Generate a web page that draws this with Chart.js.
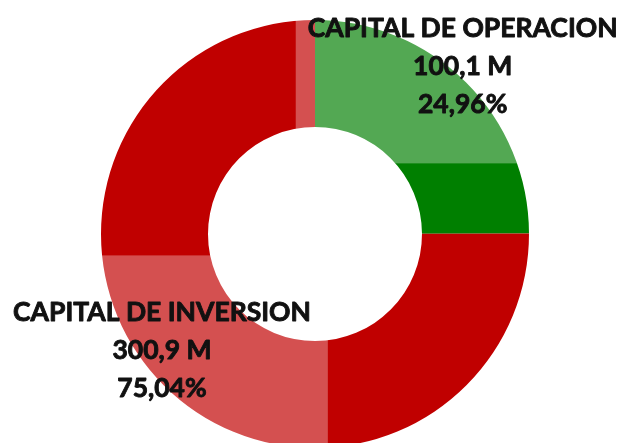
<!DOCTYPE html>
<html>
<head>
<meta charset="utf-8">
<script src="https://cdn.jsdelivr.net/npm/chart.js@4"></script>
<style>
  html, body { margin: 0; padding: 0; background: #fff; overflow: hidden; }
  #wrap { width: 625px; height: 466px; }
</style>
</head>
<body>
<div id="wrap"><canvas id="capitalChart"></canvas></div>
<script>
"use strict";

// datos del grafico
const categorias = ["CAPITAL DE OPERACION", "CAPITAL DE INVERSION"];
const montos = [100.1, 300.9];            // millones
const montoTextos = ["100,1 M", "300,9 M"];

// colores
const verdeClaro = "#53A853";
const verdeOscuro = "#007F00";
const rojoOscuro = "#C00000";
const rojoClaro = "#D45050";

const total = montos.reduce((a, b) => a + b, 0);
const porcentajes = montos.map(v => (v / total * 100).toFixed(2).replace(".", ",") + "%");

// geometria del anillo a partir del area del grafico
function anillo(chart) {
    const a = chart.chartArea;
    return {
        cx: (a.left + a.right) / 2,
        cy: (a.top + a.bottom) / 2,
        r: Math.min(a.right - a.left, a.bottom - a.top) / 2
    };
}

// relleno en bloques como en el original de Excel
function relleno(ctx) {
    const chart = ctx.chart;
    if (!chart.chartArea) return ctx.dataIndex === 0 ? verdeClaro : rojoOscuro;
    const { cx, cy, r } = anillo(chart);
    const c = document.createElement("canvas");
    c.width = chart.width;
    c.height = chart.height;
    const g = c.getContext("2d");
    if (ctx.dataIndex === 0) {
        g.fillStyle = verdeClaro;
        g.fillRect(0, 0, c.width, c.height);
        g.fillStyle = verdeOscuro;
        g.fillRect(0, cy - 0.33 * r, c.width, c.height);
    } else {
        g.fillStyle = rojoOscuro;
        g.fillRect(0, 0, c.width, c.height);
        g.fillStyle = rojoClaro;
        g.fillRect(0, cy + 0.1 * r, cx + 0.06 * r, c.height);
        g.fillRect(cx - 0.09 * r, 0, 0.12 * r, cy);
    }
    return chart.ctx.createPattern(c, "no-repeat");
}

// etiquetas de datos (categoria, monto, porcentaje)
const etiquetasPlugin = {
    id: "etiquetas",
    afterDatasetsDraw(chart) {
        const { cx, cy, r } = anillo(chart);
        const pos = [[0.69, -0.785], [-0.715, 0.545]];
        const ctx = chart.ctx;
        ctx.save();
        ctx.font = "bold 26.5px Lato";
        ctx.fillStyle = "#111";
        ctx.strokeStyle = "#111";
        ctx.lineWidth = 0.9;
        ctx.lineJoin = "round";
        ctx.textAlign = "center";
        ctx.textBaseline = "middle";
        categorias.forEach((cat, i) => {
            const x = cx + pos[i][0] * r;
            const y = cy + pos[i][1] * r;
            [cat, montoTextos[i], porcentajes[i]].forEach((t, k) => {
                ctx.fillText(t, x, y + (k - 1) * 38);
                ctx.strokeText(t, x, y + (k - 1) * 38);
            });
        });
        ctx.restore();
    }
};

new Chart(document.getElementById("capitalChart"), {
    type: "doughnut",
    data: {
        labels: categorias,
        datasets: [{
            data: montos,
            backgroundColor: relleno,
            borderWidth: 0,
            offset: 0,
            hoverOffset: 0
        }]
    },
    options: {
        responsive: true,
        maintainAspectRatio: false,
        animation: false,
        events: [],
        cutout: "50%",
        layout: { padding: { top: 20, bottom: 18, left: 5, right: 0 } },
        plugins: {
            legend: { display: false },
            tooltip: { enabled: false }
        }
    },
    plugins: [etiquetasPlugin]
});
</script>
</body>
</html>
